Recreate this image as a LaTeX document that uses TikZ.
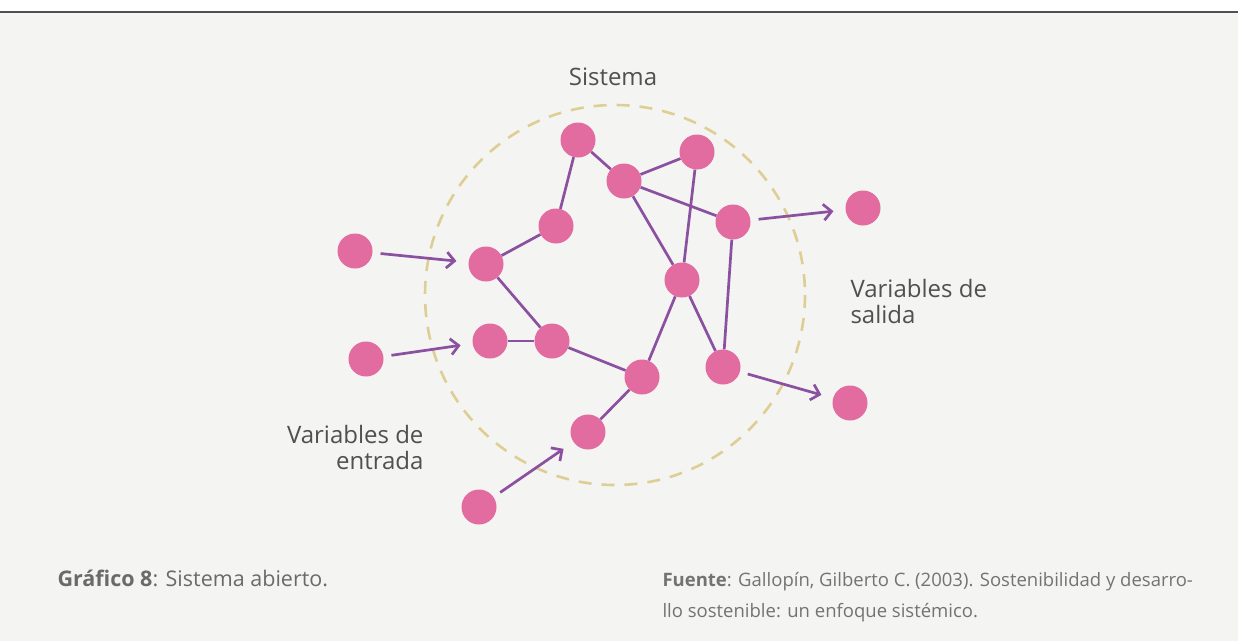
\documentclass[tikz,border=0pt]{standalone}
\usepackage{fontspec}
\setmainfont{Open Sans}
\usetikzlibrary{arrows.meta}
\definecolor{nodepink}{RGB}{226,108,160}
\definecolor{linkpurple}{RGB}{140,80,160}
\definecolor{ringsand}{RGB}{222,206,148}
\definecolor{paper}{RGB}{244,244,243}
\definecolor{inkgray}{RGB}{80,80,80}
\tikzset{
  var/.style={circle, fill=nodepink, minimum size=35pt, inner sep=0pt},
  link/.style={line width=2.7pt, linkpurple},
  flow/.style={line width=2.7pt, linkpurple, -{Straight Barb[length=8pt,width=16pt]}, shorten <=8pt, shorten >=12pt},
  lbl/.style={inkgray, font=\fontsize{24}{26}\selectfont}
}
\begin{document}
\begin{tikzpicture}[x=1pt, y=-1pt]
  \useasboundingbox (0,0) rectangle (1238,641);
  \fill[white] (0,0) rectangle (1238,12);
  \fill[paper] (0,12) rectangle (1238,641);
  \draw[line width=1.6pt, inkgray] (0,12) -- (1238,12);

  % the system boundary
  \draw[ringsand, line width=2.6pt, dash pattern=on 13pt off 10pt] (615,295) circle (190);

  % variables inside the system
  \node[var] (v1) at (578,140) {};
  \node[var] (v2) at (697,152) {};
  \node[var] (v3) at (624,181) {};
  \node[var] (v4) at (733,222) {};
  \node[var] (v5) at (556,226) {};
  \node[var] (v6) at (486,264) {};
  \node[var] (v7) at (682,280) {};
  \node[var] (v8) at (490,341) {};
  \node[var] (v9) at (552,341) {};
  \node[var] (v10) at (723,367) {};
  \node[var] (v11) at (642,377) {};
  \node[var] (v12) at (588,432) {};

  % inputs and outputs
  \node[var] (in1) at (355,251) {};
  \node[var] (in2) at (366,359) {};
  \node[var] (in3) at (479,507) {};
  \node[var] (out1) at (863,208) {};
  \node[var] (out2) at (850,403) {};

  \draw[link] (v1) edge (v3) (v1) edge (v5) (v3) edge (v2) (v3) edge (v4)
    (v3) edge (v7) (v2) edge (v7) (v5) edge (v6) (v6) edge (v9)
    (v8) edge (v9) (v9) edge (v11) (v11) edge (v7) (v7) edge (v10)
    (v4) edge (v10) (v11) edge (v12);

  \draw[flow] (in1) -- (v6);
  \draw[flow] (in2) -- (v8);
  \draw[flow] (in3) -- (v12);
  \draw[flow] (v4) -- (out1);
  \draw[flow] (v10) -- (out2);

  \node[lbl, anchor=base] (sys) at (613,85) {Sistema};
  \node[lbl, anchor=base west, align=left] (outl) at (847,323) {Variables de\\salida};
  \node[lbl, anchor=base east, align=right] (inl) at (427,469) {Variables de\\entrada};

  \node[anchor=base west, text=inkgray!85, font=\fontsize{21.5}{24}\selectfont] (cap) at (54,586)
    {\textbf{Gráfico 8}: Sistema abierto.};
  \node[anchor=base west, align=left, text=inkgray!80, font=\fontsize{18.5}{31}\selectfont] (src) at (659,617)
    {\textbf{Fuente}: Gallopín, Gilberto C. (2003). Sostenibilidad y desarro-\\llo sostenible: un enfoque sistémico.};
\end{tikzpicture}
\end{document}
